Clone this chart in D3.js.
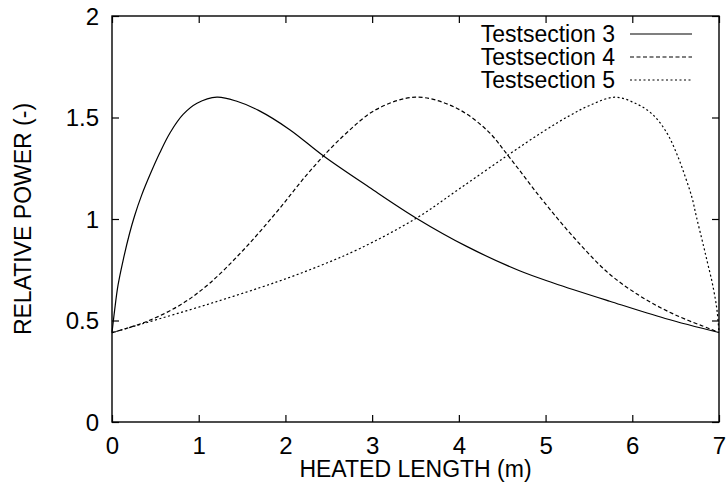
<!DOCTYPE html>
<html>
<head>
<meta charset="utf-8">
<script src="https://cdn.jsdelivr.net/npm/d3@7"></script>
<style>
  body { margin: 0; background: #fff; }
  svg { display: block; }
  text { font-family: "Liberation Sans", Arial, Helvetica, sans-serif; fill: #000; }
</style>
</head>
<body>
<div id="chart"></div>
<script>
// values
const ts3X = [0, 0.03, 0.07, 0.13, 0.2, 0.26, 0.34, 0.44, 0.55, 0.67, 0.82, 0.98, 1.21, 1.44, 1.69, 2.05, 2.44, 2.97, 3.51, 4.09, 4.7, 5.09, 5.74, 6.38, 7.0];
const ts3Y = [0.44, 0.55, 0.675, 0.80, 0.925, 1.015, 1.115, 1.22, 1.325, 1.425, 1.515, 1.57, 1.60, 1.58, 1.535, 1.44, 1.31, 1.155, 1.004, 0.865, 0.745, 0.685, 0.595, 0.51, 0.441];

const ts4X = [0, 0.4, 0.8, 1.13, 1.51, 1.9, 2.28, 2.67, 3.05, 3.5, 3.94, 4.32, 4.59, 4.97, 5.36, 5.74, 6.13, 6.51, 6.9, 7.0];
const ts4Y = [0.44, 0.495, 0.58, 0.685, 0.845, 1.035, 1.235, 1.41, 1.54, 1.60, 1.553, 1.439, 1.30, 1.09, 0.893, 0.728, 0.61, 0.525, 0.458, 0.441];

const ts5X = [0, 0.36, 1.13, 1.9, 2.4, 2.86, 3.51, 4.01, 4.55, 4.97, 5.28, 5.51, 5.8, 6.05, 6.24, 6.4, 6.51, 6.61, 6.69, 6.74, 6.82, 6.87, 6.92, 6.96, 6.98, 7.0];
const ts5Y = [0.44, 0.485, 0.583, 0.69, 0.77, 0.855, 1.004, 1.15, 1.31, 1.43, 1.51, 1.56, 1.60, 1.567, 1.513, 1.423, 1.324, 1.209, 1.103, 1.01, 0.87, 0.78, 0.69, 0.60, 0.54, 0.441];

const seriesNames = ["Testsection 3", "Testsection 4", "Testsection 5"];
const xTicks = [0, 1, 2, 3, 4, 5, 6, 7];
const yTicks = [0, 0.5, 1, 1.5, 2];
const xLabel = "HEATED LENGTH (m)";
const yLabel = "RELATIVE POWER (-)";

const W = 726, H = 487;
const margin = { top: 16, right: 7, bottom: 65, left: 112 };
const width = W - margin.left - margin.right;
const height = H - margin.top - margin.bottom;
const tickLen = 7;
const labelSize = "23px";
const tickSize = "24px";

const dashes = [null, "4,2.5", "2,2.5"];

const series = [
  ts3X.map((x, i) => ({ x, y: ts3Y[i] })),
  ts4X.map((x, i) => ({ x, y: ts4Y[i] })),
  ts5X.map((x, i) => ({ x, y: ts5Y[i] }))
];

const svg = d3.select("#chart").append("svg")
    .attr("width", W)
    .attr("height", H);

const g = svg.append("g")
    .attr("transform", `translate(${margin.left},${margin.top})`);

const x = d3.scaleLinear().domain([0, 7]).range([0, width]);
const y = d3.scaleLinear().domain([0, 2]).range([height, 0]);

// axes: ticks point inward, mirrored on top/right
const bottomAxis = g.append("g")
    .attr("transform", `translate(0,${height})`)
    .call(d3.axisBottom(x).tickValues(xTicks).tickSizeInner(-tickLen).tickSizeOuter(0).tickFormat(d3.format("d")));
const topAxis = g.append("g")
    .call(d3.axisTop(x).tickValues(xTicks).tickSizeInner(-tickLen).tickSizeOuter(0).tickFormat(""));
const leftAxis = g.append("g")
    .call(d3.axisLeft(y).tickValues(yTicks).tickSizeInner(-tickLen).tickSizeOuter(0).tickFormat(d => d));
const rightAxis = g.append("g")
    .attr("transform", `translate(${width},0)`)
    .call(d3.axisRight(y).tickValues(yTicks).tickSizeInner(-tickLen).tickSizeOuter(0).tickFormat(""));

[bottomAxis, topAxis, leftAxis, rightAxis].forEach(a => {
  a.select(".domain").remove();
  a.attr("font-family", null).attr("font-size", null);
  a.selectAll("line").attr("stroke", "#000").attr("stroke-width", 1.2);
  a.selectAll("text").style("font-size", tickSize).attr("fill", "#000");
});

// place tick labels like the reference
bottomAxis.selectAll("text").attr("y", 32).attr("dy", 0);
leftAxis.selectAll("text").attr("x", -13).attr("dy", "0.35em");

// border
g.append("rect")
    .attr("width", width)
    .attr("height", height)
    .attr("fill", "none")
    .attr("stroke", "#000")
    .attr("stroke-width", 1.4);

// curves
const line = d3.line()
    .x(d => x(d.x))
    .y(d => y(d.y))
    .curve(d3.curveCatmullRom.alpha(0.5));

g.selectAll("path.curve")
  .data(series)
  .enter().append("path")
    .attr("class", "curve")
    .attr("d", line)
    .attr("fill", "none")
    .attr("stroke", "#000")
    .attr("stroke-width", 1.2)
    .attr("stroke-dasharray", (d, i) => dashes[i]);

// legend
const legend = g.append("g");
seriesNames.forEach((name, i) => {
  const ly = 18 + i * 23;
  legend.append("text")
      .attr("x", 503)
      .attr("y", ly + 8)
      .attr("text-anchor", "end")
      .style("font-size", labelSize)
      .text(name);
  legend.append("line")
      .attr("x1", 518)
      .attr("x2", 580)
      .attr("y1", ly)
      .attr("y2", ly)
      .attr("stroke", "#000")
      .attr("stroke-width", 1.2)
      .attr("stroke-dasharray", dashes[i]);
});

// axis labels
svg.append("text")
    .attr("x", margin.left + width / 2)
    .attr("y", 477)
    .attr("text-anchor", "middle")
    .style("font-size", labelSize)
    .text(xLabel);

svg.append("text")
    .attr("transform", `translate(31,${margin.top + height / 2}) rotate(-90)`)
    .attr("text-anchor", "middle")
    .style("font-size", labelSize)
    .text(yLabel);
</script>
</body>
</html>
